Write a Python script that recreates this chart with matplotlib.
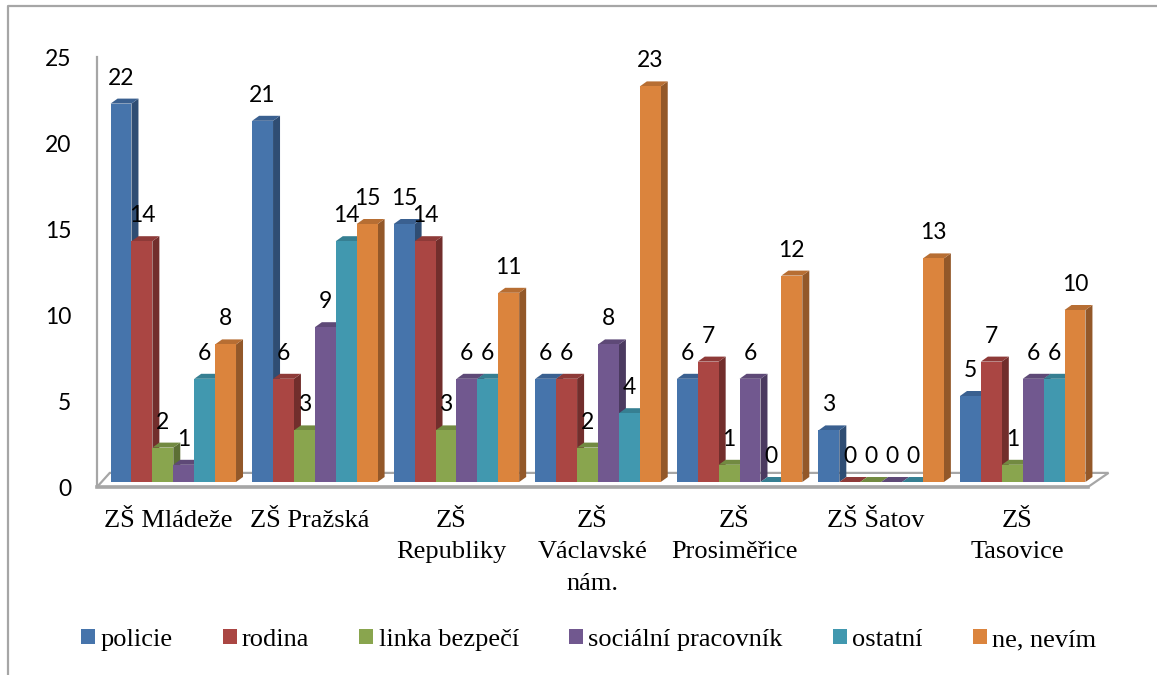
import numpy as np
import matplotlib
matplotlib.use('Agg')
import matplotlib.pyplot as plt
from matplotlib.lines import Line2D
from matplotlib.patches import Polygon

categories = ['ZŠ Mládeže', 'ZŠ Pražská', 'ZŠ\nRepubliky', 'ZŠ\nVáclavské\nnám.',
              'ZŠ\nProsiměřice', 'ZŠ Šatov', 'ZŠ\nTasovice']
policie = [22, 21, 15, 6, 6, 3, 5]
rodina = [14, 6, 14, 6, 7, 0, 7]
linka = [2, 3, 3, 2, 1, 0, 1]
socialni = [1, 9, 6, 8, 6, 0, 6]
ostatni = [6, 14, 6, 4, 0, 0, 6]
nevim = [8, 15, 11, 23, 12, 13, 10]
series_names = ['policie', 'rodina', 'linka bezpečí', 'sociální pracovník', 'ostatní', 'ne, nevím']
yticks = [0, 5, 10, 15, 20, 25]

front = ['#4674AB', '#AA4643', '#89A54E', '#71588F', '#4198AF', '#DB843D']
side = ['#2F4D73', '#722E2C', '#5C6F34', '#4B3A60', '#2B6675', '#935829']
top = ['#3A6090', '#8E3A38', '#728A41', '#5E4977', '#367F92', '#B76E33']
gray = '#A6A6A6'

W, H = 1157, 675
fig = plt.figure(figsize=(W / 100, H / 100), dpi=100)


def box(left, bottom_y, right, top_y):
    # pixel box measured from the top left of the picture
    return [left / W, 1 - bottom_y / H, (right - left) / W, (bottom_y - top_y) / H]


# outer frame, only left and top are visible
fig.add_artist(Line2D([7.5 / W, 7.5 / W, 1], [0, 1 - 5.5 / H, 1 - 5.5 / H], color=gray, lw=1.6))

# wall and floor
wall = fig.add_axes(box(97, 487, 1088, 57))
wall.set_xlim(-0.5, 6.5)
wall.set_ylim(0, 25)
for s in ['top', 'right']:
    wall.spines[s].set_visible(False)
wall.spines['left'].set_color(gray)
wall.spines['left'].set_linewidth(1.6)
wall.spines['bottom'].set_color(gray)
wall.spines['bottom'].set_linewidth(2.6)
wall.add_patch(Polygon([(-0.5, 0), (6.5, 0), (6.645, 0.82), (-0.41, 0.82)], closed=True,
                       facecolor='white', edgecolor=gray, lw=1.6, clip_on=False))
wall.set_xticks(range(len(categories)))
wall.set_xticklabels(categories, fontfamily='Liberation Serif', fontsize=19, linespacing=1.55)
wall.set_yticks(yticks)
wall.set_yticklabels(yticks, fontfamily='Lato', fontsize=16.5)
wall.tick_params(axis='x', length=0, pad=16.5, colors='black')
wall.tick_params(axis='y', length=0, pad=18.5, colors='black')

# bars sit a little behind the front edge of the floor
ax = fig.add_axes(box(102.5, 482, 1093.5, 52))
ax.set_xlim(-0.5, 6.5)
ax.set_ylim(0, 25)
ax.patch.set_alpha(0)
ax.axis('off')

all_series = [policie, rodina, linka, socialni, ostatni, nevim]
x = np.arange(len(categories))
n = len(all_series)
bar_w = 0.1477
dx = 7 / 141.6
dy = 5 / 17.2

handles = []
for j, vals in enumerate(all_series):
    xs = x + (j - (n - 1) / 2) * bar_w
    z = 3 + j * 3
    bars = ax.bar(xs, vals, width=bar_w, color=front[j], zorder=z + 2, label=series_names[j])
    handles.append(bars)
    for xc, v in zip(xs, vals):
        r = xc + bar_w / 2
        l = xc - bar_w / 2
        ax.add_patch(Polygon([(r, 0), (r, v), (r + dx, v + dy), (r + dx, dy)], closed=True,
                             facecolor=side[j], edgecolor='none', zorder=z, clip_on=False))
        ax.add_patch(Polygon([(l, v), (r, v), (r + dx, v + dy), (l + dx, v + dy)], closed=True,
                             facecolor=top[j], edgecolor='none', zorder=z + 1, clip_on=False))
        ax.annotate(str(v), (xc, v), xytext=(0, 25.5 * 0.72), textcoords='offset points',
                    ha='center', va='center', family='Lato', fontsize=16.5,
                    color='black', zorder=40, annotation_clip=False)

fig.legend(handles=handles, labels=series_names, loc='center left',
           bbox_to_anchor=(81 / W, 1 - 640 / H), ncol=6, frameon=False,
           prop={'family': 'Liberation Serif', 'size': 19},
           handlelength=0.53, handleheight=0.53, handletextpad=0.2,
           columnspacing=1.9, borderpad=0, borderaxespad=0)

fig.savefig('out.png', dpi=100)
